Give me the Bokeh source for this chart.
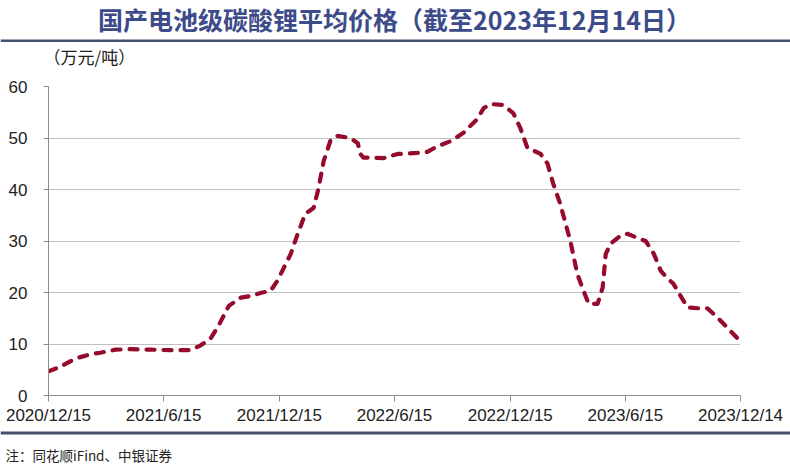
import pandas as pd
from bokeh.plotting import figure
from bokeh.layouts import column
from bokeh.models import Range1d, FixedTicker, BoxAnnotation, ColumnDataSource
from bokeh.core.properties import value
from bokeh.embed import file_html
from bokeh.resources import INLINE

# ---- data ----
dates = [
    "2020-12-15", "2021-01-03", "2021-01-27", "2021-02-19", "2021-03-07", "2021-03-31",
    "2021-04-24", "2021-05-25", "2021-06-26", "2021-07-27", "2021-08-12", "2021-08-28",
    "2021-09-10", "2021-09-26", "2021-10-15", "2021-10-30", "2021-11-18", "2021-12-01",
    "2021-12-12", "2022-01-02", "2022-01-13", "2022-01-25", "2022-02-07", "2022-02-15",
    "2022-02-23", "2022-03-06", "2022-03-17", "2022-04-06", "2022-04-18", "2022-04-22",
    "2022-04-27", "2022-05-29", "2022-06-20", "2022-07-21", "2022-08-06", "2022-08-22",
    "2022-09-12", "2022-10-02", "2022-10-24", "2022-11-03", "2022-11-14", "2022-12-04",
    "2022-12-20", "2022-12-31", "2023-01-11", "2023-02-01", "2023-02-12", "2023-02-21",
    "2023-03-04", "2023-03-20", "2023-03-31", "2023-04-08", "2023-04-18", "2023-05-02",
    "2023-05-10", "2023-05-15", "2023-05-23", "2023-06-07", "2023-06-18", "2023-07-04",
    "2023-07-17", "2023-07-30", "2023-08-10", "2023-08-21", "2023-08-30", "2023-09-21",
    "2023-10-12", "2023-10-23", "2023-11-08", "2023-11-23", "2023-12-14",
]
prices = [
    4.7, 5.6, 7.2, 8.0, 8.3, 8.9,
    9.0, 8.9, 8.8, 8.8, 9.7, 11.0,
    13.6, 17.4, 19.0, 19.3, 20.0, 20.3,
    22.3, 27.5, 31.4, 35.3, 36.4, 40.3,
    45.5, 49.6, 50.4, 50.0, 49.0, 46.9,
    46.2, 46.1, 46.9, 47.1, 47.3, 48.4,
    49.4, 51.0, 53.7, 55.8, 56.6, 56.4,
    54.8, 51.9, 48.1, 46.9, 45.0, 41.1,
    37.2, 30.0, 23.6, 20.9, 17.8, 17.8,
    20.9, 27.5, 29.5, 31.0, 31.4, 30.6,
    30.0, 27.5, 24.2, 22.7, 21.7, 17.1,
    16.9, 16.9, 15.1, 13.2, 10.5,
]
tick_dates = ["2020-12-15", "2021-06-15", "2021-12-15", "2022-06-15",
              "2022-12-15", "2023-06-15", "2023-12-14"]
tick_labels = ["2020/12/15", "2021/6/15", "2021/12/15", "2022/6/15",
               "2022/12/15", "2023/6/15", "2023/12/14"]
y_ticks = [0, 10, 20, 30, 40, 50, 60]

title_text = "国产电池级碳酸锂平均价格（截至2023年12月14日）"
unit_text = "（万元/吨）"
note_text = "注：同花顺iFind、中银证券"

W = 790
RULE = "#44506e"
TXT = "#222222"


def blank_fig(h):
    f = figure(width=W, height=h, output_backend="svg", toolbar_location=None,
               x_range=Range1d(0, W), y_range=Range1d(h, 0),
               min_border=0, min_border_left=0, min_border_right=0,
               min_border_top=0, min_border_bottom=0,
               x_axis_location=None, y_axis_location=None, frame_align=False)
    f.outline_line_color = None
    f.xgrid.grid_line_color = None
    f.ygrid.grid_line_color = None
    return f


# ---- header: title, rule, unit ----
TOP_H = 68
top = blank_fig(TOP_H)
top.text(x=[394], y=[18], text=[title_text], text_font=value("Noto Sans CJK SC"),
         text_font_style="bold", text_font_size="25px", text_color="#3d4b8a",
         text_align="center", text_baseline="middle")
top.add_layout(BoxAnnotation(left=0, right=W, top=39, bottom=41.5,
                             fill_color=RULE, fill_alpha=1, line_color=None))
top.text(x=[43], y=[56], text=[unit_text], text_font=value("Noto Sans CJK SC"),
         text_font_size="17px", text_color=TXT,
         text_align="left", text_baseline="middle")

# ---- main chart ----
MAIN_H = 362
FL, FR, FT = 48, W - 740, 18
FB = MAIN_H - FT - 309

x = pd.to_datetime(dates)
src = ColumnDataSource(dict(x=x, y=prices))
tick_ms = [pd.Timestamp(d).value // 10**6 for d in tick_dates]

p = figure(width=W, height=MAIN_H, x_axis_type="datetime", output_backend="svg",
           toolbar_location=None, min_border_left=FL, min_border_right=FR,
           min_border_top=FT, min_border_bottom=FB, frame_align=False,
           x_range=Range1d(pd.Timestamp(tick_dates[0]), pd.Timestamp(tick_dates[-1])),
           y_range=Range1d(0, 60))
p.outline_line_color = None

p.line("x", "y", source=src, line_color="#960b2c", line_width=4.2,
       line_dash="8 9", line_cap="round", line_join="round")

p.xaxis.ticker = FixedTicker(ticks=tick_ms)
p.xaxis.major_label_overrides = {t: l for t, l in zip(tick_ms, tick_labels)}
p.yaxis.ticker = FixedTicker(ticks=y_ticks)
for ax in (p.xaxis, p.yaxis):
    ax.axis_line_color = "#8c8c8c"
    ax.major_tick_line_color = "#8c8c8c"
    ax.minor_tick_line_color = None
    ax.major_tick_in = 0
    ax.major_label_text_font = "Liberation Sans"
    ax.major_label_text_font_size = "17px"
    ax.major_label_text_color = TXT
p.xaxis.major_tick_out = 6
p.yaxis.major_tick_out = 5
p.xaxis.major_label_standoff = 4
p.yaxis.major_label_standoff = 16
p.xgrid.grid_line_color = None
p.ygrid.grid_line_color = "#808080"
p.ygrid.grid_line_dash = "1 1"
p.ygrid.grid_line_width = 1

# ---- footer: rule and note ----
BOT_H = 33
bot = blank_fig(BOT_H)
bot.add_layout(BoxAnnotation(left=0, right=W, top=1, bottom=4,
                             fill_color=RULE, fill_alpha=1, line_color=None))
bot.text(x=[5], y=[24], text=[note_text], text_font=value("Noto Sans CJK SC"),
         text_font_size="13.5px", text_color=TXT,
         text_align="left", text_baseline="middle")

layout = column(top, p, bot, spacing=0)
open("out.html", "w").write(file_html(layout, INLINE))
